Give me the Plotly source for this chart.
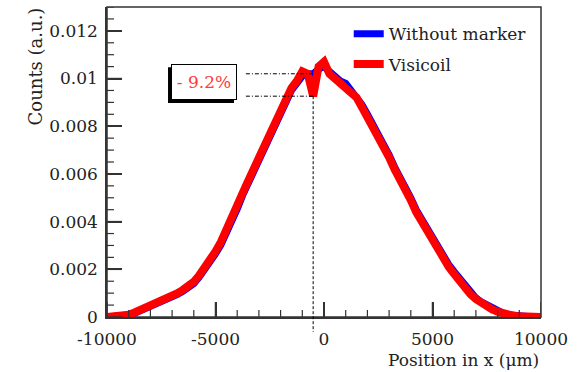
import plotly.graph_objects as go

# Beam profile along x, normalised counts, 250 um bins
position_um = list(range(-10000, 10001, 250))

without_marker = [
    0.0, 0.00001, 0.00002, 0.00005, 0.00008, 0.00015, 0.00025, 0.00033,
    0.00041, 0.0005, 0.00058, 0.0007, 0.00083, 0.00095, 0.00108, 0.00122,
    0.0014, 0.00167, 0.00196, 0.0023, 0.00265, 0.00303, 0.0035, 0.0040,
    0.00452, 0.0051, 0.0056, 0.0061, 0.0066, 0.0071, 0.0076, 0.0081,
    0.0086, 0.0091, 0.0095, 0.0098, 0.0101, 0.0102, 0.0102, 0.0104,
    0.0105,
    0.0103, 0.0101, 0.0099, 0.0098, 0.0095, 0.0093, 0.0089, 0.0085,
    0.0081, 0.0077, 0.0072, 0.0068, 0.0063, 0.0059, 0.0054, 0.0050,
    0.0045, 0.0041, 0.0037, 0.0033, 0.0029, 0.0026, 0.0022, 0.0019,
    0.0016, 0.00128, 0.001, 0.0008, 0.00063, 0.0005, 0.00036, 0.00025,
    0.00016, 0.0001, 0.00006, 0.00004, 0.00002, 0.00001, 0.00001, 0.0,
]

visicoil = [
    0.0, 0.00001, 0.00003, 0.00006, 0.0001, 0.00018, 0.00028, 0.00036,
    0.00044, 0.00053, 0.00062, 0.00074, 0.00088, 0.001, 0.00114, 0.00128,
    0.00148, 0.00175, 0.00205, 0.0024, 0.00275, 0.00315, 0.00362, 0.0041,
    0.00465, 0.0052, 0.0057, 0.0062, 0.0067, 0.0072, 0.0077, 0.0082,
    0.0087, 0.0092, 0.0096, 0.0099, 0.0103, 0.0102, 0.00926, 0.0105,
    0.0107,
    0.0102, 0.0100, 0.0098, 0.0097, 0.0094, 0.0092, 0.0088, 0.0084,
    0.0080, 0.0076, 0.0071, 0.0067, 0.0062, 0.0058, 0.0053, 0.0049,
    0.0044, 0.0040, 0.0036, 0.0032, 0.0028, 0.0025, 0.0021, 0.0018,
    0.0015, 0.0012, 0.00095, 0.00075, 0.00058, 0.00045, 0.00032, 0.00022,
    0.00014, 0.00008, 0.00005, 0.00003, 0.00002, 0.00001, 0.00001, 0.0,
]

x_tick_vals = [-10000, -5000, 0, 5000, 10000]
x_tick_text = ["-10000", "-5000", "0", "5000", "10000"]
y_tick_vals = [0, 0.002, 0.004, 0.006, 0.008, 0.01, 0.012]
y_tick_text = ["0", "0.002", "0.004", "0.006", "0.008", "0.01", "0.012"]

dip_label = "- 9.2%"
dip_index = position_um.index(-500)
dip_x = position_um[dip_index]
ref_level = without_marker[dip_index]
dip_level = visicoil[dip_index]
guide_start_x = -3600

X_RANGE = [-10000, 10000]
Y_RANGE = [0, 0.013]
X_MINOR_STEP = 1000
Y_MINOR_STEP = 0.0005

FONT = "DejaVu Serif"
INK = "#222222"
AXIS = "#333333"

# plotting-area size in px, used to express tick lengths in axis units
PLOT_W, PLOT_H = 579 - 107 - 38, 372 - 7 - 55
MAJOR_LEN, MINOR_LEN = 15, 7
x_per_px = (X_RANGE[1] - X_RANGE[0]) / PLOT_W
y_per_px = (Y_RANGE[1] - Y_RANGE[0]) / PLOT_H

fig = go.Figure()
fig.add_trace(go.Scatter(x=position_um, y=without_marker, mode="lines",
                         name="Without marker", legendgroup="a",
                         line=dict(color="#0000ff", width=7)))
fig.add_trace(go.Scatter(x=position_um, y=visicoil, mode="lines",
                         name="Visicoil", legendgroup="b",
                         line=dict(color="#ff0000", width=8)))

# frame around the plotting area
fig.add_shape(type="rect", xref="paper", yref="paper", x0=0, x1=1, y0=0, y1=1,
              line=dict(color=AXIS, width=1.5), fillcolor="rgba(0,0,0,0)",
              layer="below")

# inward tick marks on the bottom and left axes
n_x = int(round((X_RANGE[1] - X_RANGE[0]) / X_MINOR_STEP))
for i in range(n_x + 1):
    xv = X_RANGE[0] + i * X_MINOR_STEP
    major = xv in x_tick_vals
    fig.add_shape(type="line", xref="x", yref="y", x0=xv, x1=xv,
                  y0=Y_RANGE[0],
                  y1=Y_RANGE[0] + (MAJOR_LEN if major else MINOR_LEN) * y_per_px,
                  line=dict(color=AXIS, width=1.5 if major else 1.2),
                  layer="above")
n_y = int(round((Y_RANGE[1] - Y_RANGE[0]) / Y_MINOR_STEP))
for i in range(n_y + 1):
    yv = round(Y_RANGE[0] + i * Y_MINOR_STEP, 6)
    major = any(abs(yv - t) < 1e-9 for t in y_tick_vals)
    fig.add_shape(type="line", xref="x", yref="y", y0=yv, y1=yv,
                  x0=X_RANGE[0],
                  x1=X_RANGE[0] + (MAJOR_LEN if major else MINOR_LEN) * x_per_px,
                  line=dict(color=AXIS, width=1.5 if major else 1.2),
                  layer="above")

# dashed guides marking the dip depth
guide = dict(color="black", width=1, dash="4px,2px,1px,2px")
fig.add_shape(type="line", xref="x", yref="y", x0=guide_start_x, x1=dip_x,
              y0=ref_level, y1=ref_level, line=guide, layer="above")
fig.add_shape(type="line", xref="x", yref="y", x0=guide_start_x, x1=dip_x,
              y0=dip_level, y1=dip_level, line=guide, layer="above")
dip_px = (dip_x - X_RANGE[0]) / (X_RANGE[1] - X_RANGE[0])
fig.add_shape(type="line", xref="paper", yref="paper", x0=dip_px, x1=dip_px,
              y0=dip_level / Y_RANGE[1], y1=-0.048,
              line=dict(color="black", width=1, dash="3px,2px"), layer="above")

# label box with drop shadow
fig.add_shape(type="rect", xref="paper", yref="paper",
              x0=0.1406, x1=0.2926, y0=0.690, y1=0.806,
              fillcolor="black", line=dict(width=0), layer="above")
fig.add_annotation(xref="paper", yref="paper", x=0.2235, y=0.758,
                   xanchor="center", yanchor="middle",
                   text=dip_label, showarrow=False,
                   font=dict(family=FONT, size=17, color="#ff3a3a"),
                   bgcolor="white", bordercolor="black", borderwidth=1,
                   borderpad=2, width=60, height=30)

# axis titles, aligned to the axis ends
fig.add_annotation(xref="paper", yref="paper", x=1.0, y=-0.139,
                   xanchor="right", yanchor="middle", showarrow=False,
                   text="Position in x (μm)",
                   font=dict(family=FONT, size=17, color=INK))
fig.add_annotation(xref="paper", yref="paper", x=-0.166, y=1.005,
                   xanchor="center", yanchor="top", textangle=-90,
                   showarrow=False, text="Counts (a.u.)",
                   font=dict(family=FONT, size=18, color=INK))

axis_common = dict(showgrid=False, zeroline=False, showline=True,
                   linecolor=AXIS, linewidth=1.5,
                   ticks="inside", ticklen=MAJOR_LEN, tickwidth=1.5,
                   tickcolor=AXIS,
                   tickfont=dict(family=FONT, size=17, color=INK))

fig.update_xaxes(range=X_RANGE, tickmode="array", tickvals=x_tick_vals,
                 ticktext=x_tick_text, ticklabelstandoff=6, **axis_common)
fig.update_yaxes(range=Y_RANGE, tickmode="array", tickvals=y_tick_vals,
                 ticktext=y_tick_text, ticklabelstandoff=4, **axis_common)

fig.update_layout(
    width=579, height=372,
    margin=dict(l=107, r=38, t=7, b=55),
    paper_bgcolor="white", plot_bgcolor="white",
    showlegend=True,
    legend=dict(x=0.557, y=0.97, xanchor="left", yanchor="top",
                bgcolor="rgba(0,0,0,0)", borderwidth=0,
                font=dict(family=FONT, size=17, color=INK),
                tracegroupgap=5, itemwidth=30),
)

fig.write_html("out.html")
